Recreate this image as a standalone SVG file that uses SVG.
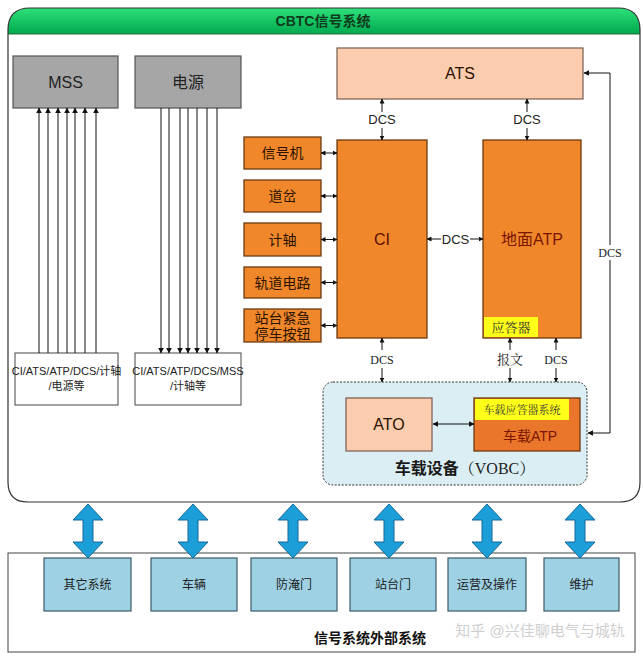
<svg xmlns="http://www.w3.org/2000/svg" width="643" height="658" viewBox="0 0 643 658">
<defs>
<linearGradient id="hdr" x1="0" y1="0" x2="0" y2="1">
<stop offset="0" stop-color="#2ee07a"/>
<stop offset="1" stop-color="#00a94f"/>
</linearGradient>
<marker id="ah" viewBox="0 0 10 10" refX="9" refY="5" markerWidth="6" markerHeight="6" orient="auto-start-reverse" markerUnits="userSpaceOnUse">
<path d="M0,0 L10,5 L0,10 Z" fill="#111"/>
</marker>
<marker id="ahs" viewBox="0 0 10 10" refX="9" refY="5" markerWidth="5" markerHeight="5" orient="auto-start-reverse" markerUnits="userSpaceOnUse">
<path d="M0,0 L10,5 L0,10 Z" fill="#111"/>
</marker>
</defs>
<style>
.sans{font-family:"Liberation Sans","Noto Sans CJK SC",sans-serif;}
.serif{font-family:"Liberation Serif","Noto Serif CJK SC","Noto Sans CJK SC",serif;}
.gray{fill:#a6a6a6;stroke:#555;stroke-width:1.2;}
.white{fill:#fff;stroke:#444;stroke-width:1;}
.org{fill:#f0872a;stroke:#6e3a10;stroke-width:1.3;}
.peach{fill:#fbcdae;stroke:#7a5a4a;stroke-width:1.2;}
.yel{fill:#ffff1a;}
.blue{fill:#9dd1e3;stroke:#3c5a66;stroke-width:1.2;}
.ln{stroke:#333;stroke-width:1;fill:none;}
.arr{stroke:#111;stroke-width:1;fill:none;}
.barr{fill:#1c9fd8;stroke:#17679a;stroke-width:1;}
.t16{font-size:16px;fill:#222;text-anchor:middle;}
.t14{font-size:14px;fill:#2a1200;text-anchor:middle;}
.t13{font-size:13px;fill:#222;text-anchor:middle;}
.t12{font-size:12px;fill:#222;text-anchor:middle;}
.dk{fill:#7a1500;}
</style>
<rect width="643" height="658" fill="#fff"/>

<g id="cbtc-frame">
<path d="M8,34 V30 Q8,8 30,8 H618 Q640,8 640,30 V34 Z" fill="url(#hdr)"/>
<path d="M8,30 Q8,8 30,8 H618 Q640,8 640,30 V482 Q640,502 620,502 H28 Q8,502 8,482 Z" fill="none" stroke="#333" stroke-width="1.2"/>
<line x1="8" y1="34" x2="640" y2="34" stroke="#2a6b3a" stroke-width="1"/>
<text x="323" y="26" class="sans" font-size="14" font-weight="bold" fill="#103a1c" text-anchor="middle">CBTC信号系统</text>
</g>

<g id="mss">
<rect x="13" y="56" width="105" height="52" class="gray"/>
<text x="65.5" y="88" class="sans t16">MSS</text>
</g>
<g id="power">
<rect x="135" y="56" width="106" height="52" class="gray"/>
<text x="188" y="88" class="sans t16">电源</text>
</g>
<g id="mss-src">
<rect x="15" y="353" width="103" height="52" class="white"/>
<text x="66.5" y="375" class="sans" font-size="11" fill="#222" text-anchor="middle">CI/ATS/ATP/DCS/计轴</text>
<text x="66.5" y="390" class="sans" font-size="11" fill="#222" text-anchor="middle">/电源等</text>
</g>
<g id="power-dst">
<rect x="135" y="353" width="106" height="52" class="white"/>
<text x="188" y="375" class="sans" font-size="11" fill="#222" text-anchor="middle">CI/ATS/ATP/DCS/MSS</text>
<text x="188" y="390" class="sans" font-size="11" fill="#222" text-anchor="middle">/计轴等</text>
</g>

<g id="signal"><rect x="244" y="137" width="77" height="32" class="org"/><text x="282.5" y="158" class="sans t14">信号机</text></g>
<g id="switch"><rect x="244" y="180" width="77" height="32" class="org"/><text x="282.5" y="201" class="sans t14">道岔</text></g>
<g id="axle"><rect x="244" y="223" width="77" height="33" class="org"/><text x="282.5" y="244.5" class="sans t14">计轴</text></g>
<g id="track"><rect x="244" y="267" width="77" height="31" class="org"/><text x="282.5" y="287.5" class="sans t14">轨道电路</text></g>
<g id="esb"><rect x="244" y="309" width="77" height="33" class="org"/><text x="282.5" y="323" class="sans t14">站台紧急</text><text x="282.5" y="339" class="sans t14">停车按钮</text></g>

<g id="ci"><rect x="337" y="140" width="90" height="198" class="org"/><text x="382" y="245" class="sans t16" style="fill:#5a1000">CI</text></g>
<g id="ats"><rect x="337" y="48" width="246" height="51" class="peach"/><text x="460" y="79" class="sans t16" style="fill:#2a1000">ATS</text></g>
<g id="ground-atp">
<rect x="483" y="140" width="98" height="198" class="org"/>
<rect x="484" y="317" width="54" height="20" class="yel"/>
<text x="532" y="245" class="sans t16 dk">地面ATP</text>
<text x="511" y="332" class="serif" font-size="13" fill="#333" text-anchor="middle">应答器</text>
</g>

<g id="vobc">
<rect x="323" y="382" width="264" height="103" rx="10" fill="#daeef4" stroke="#333" stroke-width="1" stroke-dasharray="2,1.5"/>
<text x="465" y="474" class="t16" font-size="15" text-anchor="middle"><tspan class="sans" font-weight="bold" fill="#1a1a1a">车载设备</tspan><tspan class="serif" fill="#222">（VOBC）</tspan></text>
</g>
<g id="ato"><rect x="346" y="398" width="86" height="53" class="peach"/><text x="389" y="430" class="sans t16" style="fill:#2a1000">ATO</text></g>
<g id="onboard-atp">
<rect x="474" y="398" width="106" height="53" fill="#e9762a" stroke="#6e3a10" stroke-width="1.3"/>
<rect x="475" y="399" width="94" height="21" class="yel"/>
<text x="522" y="414" class="serif" font-size="11" fill="#333" text-anchor="middle">车载应答器系统</text>
<text x="530" y="441" class="sans t14 dk" font-size="15">车载ATP</text>
</g>

<g id="ext-frame">
<rect x="8" y="553" width="627" height="99" fill="#fff" stroke="#444" stroke-width="1"/>
<text x="370" y="643" class="sans" font-size="14" font-weight="bold" fill="#111" text-anchor="middle">信号系统外部系统</text>
<text x="540" y="636" class="sans" font-size="15" fill="#cfcfcf" text-anchor="middle">知乎 @兴佳聊电气与城轨</text>
</g>
<g id="ext-other"><rect x="44" y="558" width="87" height="53" class="blue"/><text x="87.5" y="589" class="sans t12">其它系统</text></g>
<g id="ext-vehicle"><rect x="151" y="558" width="86" height="53" class="blue"/><text x="194" y="589" class="sans t12">车辆</text></g>
<g id="ext-flood"><rect x="251" y="558" width="86" height="53" class="blue"/><text x="294" y="589" class="sans t12">防淹门</text></g>
<g id="ext-psd"><rect x="350" y="558" width="86" height="53" class="blue"/><text x="393" y="589" class="sans t12">站台门</text></g>
<g id="ext-ops"><rect x="448" y="558" width="78" height="53" class="blue"/><text x="487" y="589" class="sans t12">运营及操作</text></g>
<g id="ext-maint"><rect x="544" y="558" width="75" height="53" class="blue"/><text x="581.5" y="589" class="sans t12">维护</text></g>

<g id="connectors">
<!-- to MSS -->
<g class="arr" marker-end="url(#ah)">
<line x1="39" y1="353" x2="39" y2="108"/><line x1="48" y1="353" x2="48" y2="108"/>
<line x1="58" y1="353" x2="58" y2="108"/><line x1="67" y1="353" x2="67" y2="108"/>
<line x1="75" y1="353" x2="75" y2="108"/><line x1="85" y1="353" x2="85" y2="108"/>
<line x1="96" y1="353" x2="96" y2="108"/>
</g>
<!-- from power -->
<g class="arr" marker-end="url(#ah)">
<line x1="161" y1="108" x2="161" y2="353"/><line x1="169" y1="108" x2="169" y2="353"/>
<line x1="180" y1="108" x2="180" y2="353"/><line x1="188" y1="108" x2="188" y2="353"/>
<line x1="197" y1="108" x2="197" y2="353"/><line x1="207" y1="108" x2="207" y2="353"/>
<line x1="217" y1="108" x2="217" y2="353"/>
</g>
<!-- trackside to CI -->
<g class="arr" marker-start="url(#ahs)" marker-end="url(#ahs)">
<line x1="321" y1="153" x2="337" y2="153"/>
<line x1="321" y1="196" x2="337" y2="196"/>
<line x1="321" y1="239.5" x2="337" y2="239.5"/>
<line x1="321" y1="282.5" x2="337" y2="282.5"/>
<line x1="321" y1="325.5" x2="337" y2="325.5"/>
</g>
<!-- ATS - CI / ATP -->
<g class="arr" marker-end="url(#ahs)">
<line x1="382" y1="112" x2="382" y2="99"/><line x1="382" y1="128" x2="382" y2="140"/>
<line x1="527" y1="112" x2="527" y2="99"/><line x1="527" y1="128" x2="527" y2="140"/>
<line x1="441" y1="239" x2="427" y2="239"/><line x1="470" y1="239" x2="483" y2="239"/>
<line x1="382" y1="350" x2="382" y2="338"/><line x1="382" y1="368" x2="382" y2="382"/>
<line x1="510" y1="350" x2="510" y2="338"/><line x1="510" y1="368" x2="510" y2="382"/>
<line x1="556" y1="350" x2="556" y2="338"/><line x1="556" y1="368" x2="556" y2="382"/>
</g>
<text x="382" y="124" class="sans t13">DCS</text>
<text x="527" y="124" class="sans t13">DCS</text>
<text x="455.5" y="244" class="sans t13">DCS</text>
<text x="382" y="364" class="serif t12">DCS</text>
<text x="510" y="364" class="serif t13">报文</text>
<text x="556" y="364" class="serif t12">DCS</text>
<!-- right DCS loop -->
<path d="M610,245 V73 H584" class="arr" marker-end="url(#ah)"/>
<path d="M610,260 V433 H588" class="arr" marker-end="url(#ah)"/>
<text x="610" y="257" class="serif t12">DCS</text>
<!-- ATO - onboard ATP -->
<line x1="433" y1="424" x2="474" y2="424" class="arr" marker-start="url(#ah)" marker-end="url(#ah)"/>
<!-- external interface arrows -->
<g class="barr">
<polygon points="88,504 103,520 93,520 93,542 103,542 88,558 73,542 83,542 83,520 73,520"/>
<polygon points="193,504 208,520 198,520 198,542 208,542 193,558 178,542 188,542 188,520 178,520"/>
<polygon points="293,504 308,520 298,520 298,542 308,542 293,558 278,542 288,542 288,520 278,520"/>
<polygon points="389,504 404,520 394,520 394,542 404,542 389,558 374,542 384,542 384,520 374,520"/>
<polygon points="487,504 502,520 492,520 492,542 502,542 487,558 472,542 482,542 482,520 472,520"/>
<polygon points="580,504 595,520 585,520 585,542 595,542 580,558 565,542 575,542 575,520 565,520"/>
</g>
</g>
</svg>
